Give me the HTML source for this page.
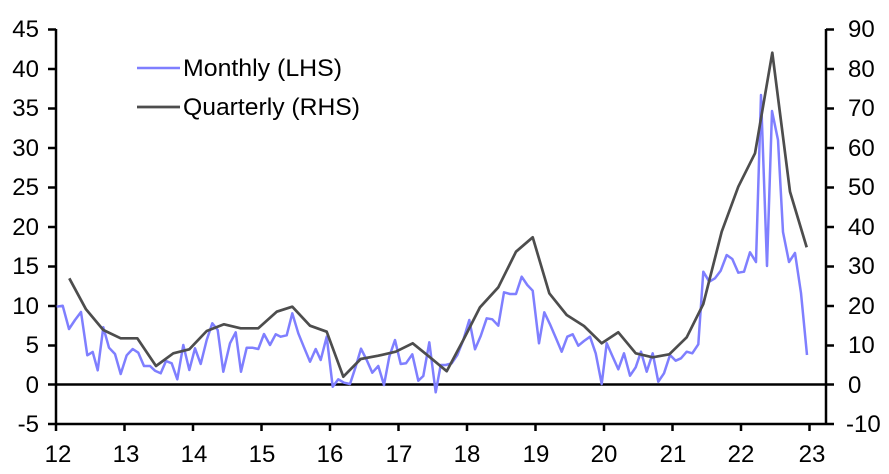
<!DOCTYPE html><html><head><style>body{margin:0;background:#fff}svg{display:block}text{font-family:"Liberation Sans",Arial,sans-serif;font-size:24px;fill:#000}</style></head><body>
<svg width="889" height="474" xmlns="http://www.w3.org/2000/svg">
<g stroke="#000" stroke-width="2.5">
<line x1="56" y1="29" x2="56" y2="425"/><line x1="826" y1="29" x2="826" y2="425"/>
<line x1="56" y1="424" x2="826" y2="424"/><line x1="56" y1="384.5" x2="834" y2="384.5"/>
<path d="M48 29.5h8M48 69h8M48 108.5h8M48 148h8M48 187.5h8M48 227h8M48 266.5h8M48 306h8M48 345.5h8M48 384.5h8M48 424h8M826 29.5h8M826 69h8M826 108.5h8M826 148h8M826 187.5h8M826 227h8M826 266.5h8M826 306h8M826 345.5h8M826 424h8"/>
<path d="M56 424v7M124.5 424v7M193 424v7M261.5 424v7M330 424v7M398.5 424v7M467 424v7M535.5 424v7M604 424v7M672.5 424v7M741 424v7M809.5 424v7"/>
</g>
<g text-anchor="end"><text x="39" y="37">45</text><text x="39" y="77">40</text><text x="39" y="116">35</text><text x="39" y="156">30</text><text x="39" y="195">25</text><text x="39" y="235">20</text><text x="39" y="274">15</text><text x="39" y="314">10</text><text x="39" y="353">5</text><text x="39" y="393">0</text><text x="39" y="432">-5</text></g>
<g><text x="848" y="37">90</text><text x="848" y="77">80</text><text x="848" y="116">70</text><text x="848" y="156">60</text><text x="848" y="195">50</text><text x="848" y="235">40</text><text x="848" y="274">30</text><text x="848" y="314">20</text><text x="848" y="353">10</text><text x="848" y="393">0</text><text x="846" y="432">-10</text></g>
<g text-anchor="middle"><text x="58" y="462">12</text><text x="126" y="462">13</text><text x="194" y="462">14</text><text x="262" y="462">15</text><text x="330" y="462">16</text><text x="399" y="462">17</text><text x="467" y="462">18</text><text x="536" y="462">19</text><text x="604" y="462">20</text><text x="673" y="462">21</text><text x="741" y="462">22</text><text x="812" y="462">23</text></g>
<polyline fill="none" stroke="#7f7fff" stroke-width="2.5" stroke-linejoin="round" points="56.7,306.7 62.7,305.7 69,329 75,320 81,312 87.3,355.3 92.7,352 97.7,370.3 103.3,327.3 109,347.7 115,354 120.7,374 126.7,355.3 132.7,349 138.3,352.7 144,366 150,366 155,370.7 160.7,373.3 166,361 171.7,363.3 177.3,379.3 183.3,345 189.3,370 195,348.3 200.7,364 206.7,340 212.3,323.3 217.7,330 223.3,371.7 230,343.3 235.7,332.3 241,371.7 246.7,347.7 252.3,347.7 258.3,349 264,334 270,345 275.7,334.3 280.7,336.7 286.7,335.3 292.3,313.3 298.3,333.3 304,347.3 310,361.7 315.7,349 320.7,360 326.7,336.7 332.7,386.7 338.3,379.3 344,382.7 350,384 355.7,366.7 361,348.7 366.7,360 372.3,372.7 378.3,366 384,385 389.3,356.7 395,340 400.7,364 406,363.3 412.3,354.3 418.3,380.7 423.3,376 429.3,342.3 435.7,392.3 440.7,365 445.7,365 451.7,363.3 457.3,355 463.3,340 469.3,320 475,349.3 480.7,336 486.7,318.3 492.3,319.3 498.3,325.7 504,292.3 510,294 516,294 521.7,276.7 527.3,285 532.7,290.7 539,343.3 544.3,312.3 550,324.3 556,338.3 561.7,351.7 567.3,336.7 572.7,334.3 578.3,345.7 584,341 590,336.7 595.7,353.3 601.7,384 606.7,343.3 612.7,356.7 618.3,369.3 624,353.3 630,375.7 635.7,367.3 641,351.7 646.7,371.7 652.7,353.3 658.3,381.7 664,373.3 670,355 675.7,360.7 681,358.3 686.7,351.7 692.3,353.3 698.3,344.3 703.3,271.7 709.3,281.7 715,278.3 720.7,270.7 726.7,255 732.3,259 738.3,272.7 744,271.7 750,252.3 756,262 761,95 767,266 772,111 778,140 783,232 789,262 795,253 801,293 807,355"/>
<polyline fill="none" stroke="#4d4d4d" stroke-width="2.7" stroke-linejoin="round" points="69.3,278.3 86,309.3 103.3,330 120.7,338.3 137.3,338.3 156,366 173.3,353.3 189.3,349.3 206.7,331 224,324.3 240.7,328.3 258.3,328.3 276.7,311.7 292.3,306.7 310,325.7 326.7,331.7 343.3,376.7 360.7,359 378.3,355.7 395.7,351.7 412.7,343.3 430,357.3 446.7,371.2 463.3,340 480,307.3 498.3,287.3 516,251.7 532.7,237.3 549.3,293.3 566.7,315 584,326 601.7,343.3 618.3,332.3 635.7,353.3 652.7,357.3 669.3,354.3 686.7,337.3 703.3,304 721.7,231.7 738.3,186.7 755,153.3 772.3,52.7 790,191.7 806.7,247.3"/>
<line x1="137" y1="68" x2="180" y2="68" stroke="#7f7fff" stroke-width="2.5"/>
<line x1="137" y1="107" x2="180" y2="107" stroke="#4d4d4d" stroke-width="2.7"/>
<text x="183" y="76" textLength="159" lengthAdjust="spacingAndGlyphs">Monthly (LHS)</text><text x="183" y="115" textLength="177" lengthAdjust="spacingAndGlyphs">Quarterly (RHS)</text>
</svg></body></html>
